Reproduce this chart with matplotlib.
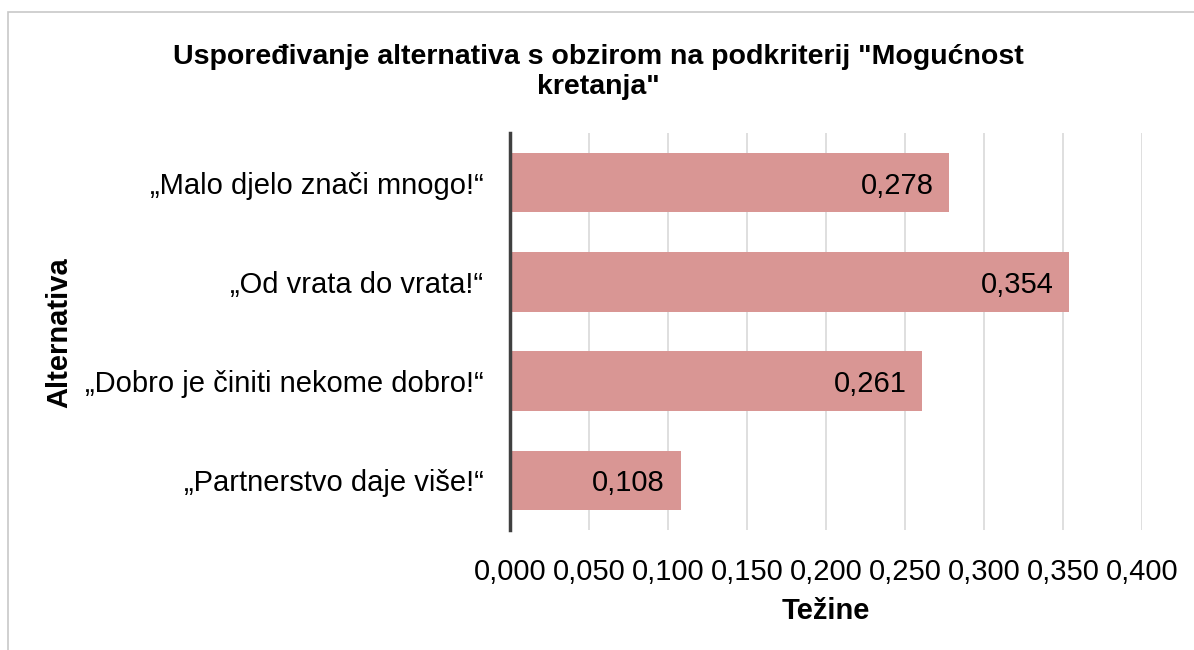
import matplotlib.pyplot as plt
from matplotlib.patches import Rectangle
from matplotlib.ticker import FuncFormatter

plt.rcParams['font.family'] = ['Liberation Sans', 'DejaVu Sans']

# data (top to bottom as in the chart)
alternatives = ["„Malo djelo znači mnogo!“", "„Od vrata do vrata!“",
                "„Dobro je činiti nekome dobro!“", "„Partnerstvo daje više!“"]
weights = [0.278, 0.354, 0.261, 0.108]
xticks = [0.0, 0.05, 0.1, 0.15, 0.2, 0.25, 0.3, 0.35, 0.4]

title = 'Uspoređivanje alternativa s obzirom na podkriterij "Mogućnost\nkretanja"'

fig = plt.figure(figsize=(11.94, 6.5), dpi=100)
ax = fig.add_axes([510 / 1194, 1 - 530 / 650, 632 / 1194, 397 / 650])

# outer chart border (light gray)
fig.patches.append(Rectangle((8 / 1194, -0.1), 1.2, 1 - 12 / 650 + 0.1,
                             transform=fig.transFigure, fill=False,
                             edgecolor='#c8c8c8', linewidth=1.2))

ypos = list(range(len(alternatives)))
bars = ax.barh(ypos, weights, height=0.6, color='#d99694', zorder=3)
ax.set_ylim(len(alternatives) - 0.5, -0.5)
ax.set_xlim(0, 0.4)
ax.set_yticks(ypos)
ax.set_yticklabels(alternatives, fontsize=21)
ax.set_xticks(xticks)
ax.xaxis.set_major_formatter(FuncFormatter(lambda v, p: f"{v:.3f}".replace('.', ',')))
ax.tick_params(axis='x', labelsize=21, length=0, pad=20)
ax.tick_params(axis='y', length=0, pad=19)

for b, w in zip(bars, weights):
    ax.text(w - 0.01, b.get_y() + b.get_height() / 2 + 0.03,
            f"{w:.3f}".replace('.', ','), ha='right', va='center',
            fontsize=21, zorder=4)

ax.grid(axis='x', color='#d9d9d9', linewidth=1.2, zorder=0)
for s in ['top', 'right', 'bottom']:
    ax.spines[s].set_visible(False)
ax.spines['left'].set_color('#404040')
ax.spines['left'].set_linewidth(2.5)
ax.spines['left'].set_zorder(5)

ax.set_xlabel('Težine', fontsize=21, fontweight='bold', labelpad=8)
fig.text(59 / 1194, 1 - 333 / 650, 'Alternativa', rotation=90, fontsize=21,
         fontweight='bold', ha='center', va='center')
fig.text(598 / 1194, 1 - 72 / 650, title, fontsize=20.5, fontweight='bold',
         ha='center', va='center', linespacing=1.17)

fig.savefig('out.png', dpi=100)
